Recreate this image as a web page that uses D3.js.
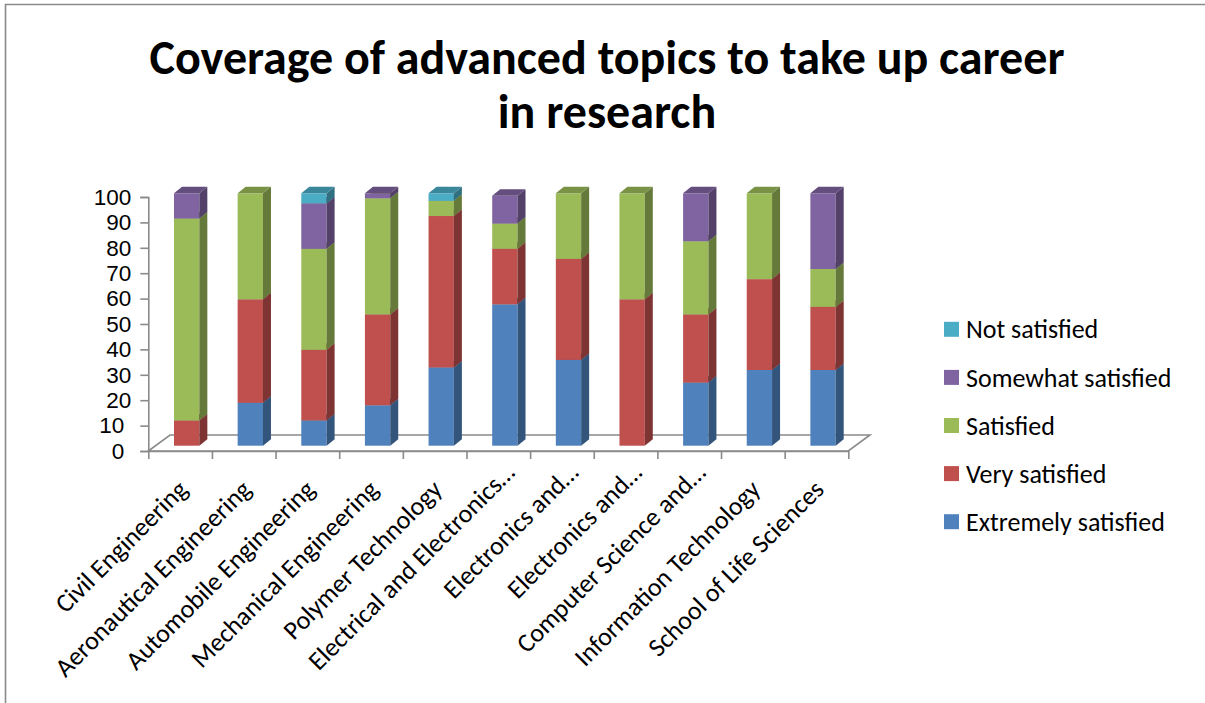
<!DOCTYPE html>
<html>
<head>
<meta charset="utf-8">
<script src="https://cdn.jsdelivr.net/npm/d3@7"></script>
<style>
  html, body { margin: 0; padding: 0; background: #fff; }
  svg { display: block; }
  text { font-family: Carlito, Lato, "Open Sans", sans-serif; fill: #000; }
</style>
</head>
<body>
<svg id="chart" width="1205" height="703"></svg>
<script>
// ---------- data ----------
const categories = [
  "Civil Engineering",
  "Aeronautical Engineering",
  "Automobile Engineering",
  "Mechanical Engineering",
  "Polymer Technology",
  "Electrical and Electronics\u2026",
  "Electronics and\u2026",
  "Electronics and\u2026",
  "Computer Science and\u2026",
  "Information Technology",
  "School of Life Sciences"
];
const seriesNames = ["Extremely satisfied", "Very satisfied", "Satisfied", "Somewhat satisfied", "Not satisfied"];
const extremelySatisfied = [0, 17, 10, 16, 31, 56, 34, 0, 25, 30, 30];
const verySatisfied      = [10, 41, 28, 36, 60, 22, 40, 58, 27, 36, 25];
const satisfied          = [80, 42, 40, 46, 6, 10, 26, 42, 29, 34, 15];
const somewhatSatisfied  = [10, 0, 18, 2, 0, 11, 0, 0, 19, 0, 30];
const notSatisfied       = [0, 0, 4, 0, 3, 0, 0, 0, 0, 0, 0];
const yTickValues = [0, 10, 20, 30, 40, 50, 60, 70, 80, 90, 100];
const titleLines = ["Coverage of advanced topics to take up career", "in research"];
const seriesColors = ["#4F81BD", "#C0504D", "#9BBB59", "#8064A2", "#4BACC6"];

// ---------- build ----------
const seriesValues = [extremelySatisfied, verySatisfied, satisfied, somewhatSatisfied, notSatisfied];
const rows = categories.map((c, i) => {
  const r = { idx: i };
  seriesNames.forEach((s, k) => r[s] = seriesValues[k][i]);
  return r;
});
const stacked = d3.stack().keys(seriesNames)(rows);

const svg = d3.select("#chart");
const gray = "#8a8a8a";

// outer border
svg.append("path")
  .attr("d", "M5.5,703 V4.5 H1205")
  .attr("fill", "none").attr("stroke", gray).attr("stroke-width", 1.6);

// title
const title = svg.append("text")
  .attr("x", 607).attr("text-anchor", "middle")
  .style("font-weight", "bold").style("font-size", "48px");
titleLines.forEach((t, i) => {
  title.append("tspan").attr("x", 607).attr("y", 74 + i * 54).text(t);
});

// scales
const plotLeft = 148.3, plotRight = 848.3;
const x = d3.scaleBand().domain(d3.range(categories.length)).range([plotLeft, plotRight]);
const xEdges = d3.scaleLinear().domain([0, categories.length]).range([plotLeft, plotRight]);
const y = d3.scaleLinear().domain([0, 100]).range([451, 197]);
const yBar = d3.scaleLinear().domain([0, 100]).range([445.7, 193.3]);

// floor (3D base)
const floorDx = 21.7, floorDy = -16;
svg.append("path")
  .attr("d", `M${plotLeft},${y(0)} L${plotRight},${y(0)} L${plotRight + floorDx},${y(0) + floorDy} L${plotLeft + floorDx},${y(0) + floorDy} Z`)
  .attr("fill", "none").attr("stroke", gray).attr("stroke-width", 1.6);

// y axis
const yAxis = svg.append("g")
  .attr("transform", `translate(${plotLeft},0)`)
  .call(d3.axisLeft(y).tickValues(yTickValues).tickSize(8).tickPadding(9));
yAxis.select(".domain").attr("stroke", gray).attr("stroke-width", 1.6);
yAxis.selectAll(".tick line").attr("stroke", gray).attr("stroke-width", 1.6);
yAxis.selectAll(".tick text").style("font-size", "22.5px").attr("fill", "#000")
  .style("font-family", "'Liberation Sans', Arial, sans-serif")
  .attr("dx", d => d <= 10 ? -7 : 0);

// x axis (ticks at category boundaries)
const xAxis = svg.append("g")
  .attr("transform", `translate(0,${y(0)})`)
  .call(d3.axisBottom(xEdges).tickValues(d3.range(categories.length + 1)).tickSize(8).tickSizeOuter(0).tickFormat(""));
xAxis.select(".domain").attr("stroke", gray).attr("stroke-width", 1.6);
xAxis.selectAll(".tick line").attr("stroke", gray).attr("stroke-width", 1.6);

// category labels (truncated labels sit slightly higher, as in the reference)
svg.append("g").selectAll("text")
  .data(categories)
  .join("text")
  .attr("text-anchor", "end")
  .attr("transform", (d, i) => {
    const cx = x(i) + x.bandwidth() / 2;
    const trunc = d.endsWith("\u2026");
    return `translate(${cx + (trunc ? 18 : 9)},${y(0) + (trunc ? 23 : 40)}) rotate(-45)`;
  })
  .style("font-size", "26px")
  .text(d => d);

// 3D stacked bars
const bw = x.bandwidth();
const faceOffset = 0.404 * bw, faceW = 0.398 * bw;
const depthDx = 8, depthDy = -6.5;
const barsG = svg.append("g");
categories.forEach((c, i) => {
  stacked.forEach((layer, k) => {
    const seg = layer[i];
    if (seg[1] - seg[0] <= 0) return;
    const x0 = x(i) + faceOffset, x1 = x0 + faceW;
    const yb = yBar(seg[0]), yt = yBar(seg[1]);
    const base = d3.color(seriesColors[k]);
    // front
    barsG.append("rect")
      .attr("x", x0).attr("y", yt).attr("width", faceW).attr("height", yb - yt)
      .attr("fill", base.formatHex());
    // side
    barsG.append("path")
      .attr("d", `M${x1},${yb} L${x1 + depthDx},${yb + depthDy} L${x1 + depthDx},${yt + depthDy} L${x1},${yt} Z`)
      .attr("fill", base.darker(1.2).formatHex());
    // top
    barsG.append("path")
      .attr("d", `M${x0},${yt} L${x1},${yt} L${x1 + depthDx},${yt + depthDy} L${x0 + depthDx},${yt + depthDy} Z`)
      .attr("fill", base.darker(0.7).formatHex());
  });
});

// legend (top-to-bottom: reverse series order)
const legendOrder = seriesNames.map((s, k) => k).reverse();
const legend = svg.append("g");
legendOrder.forEach((k, j) => {
  const cy = 329.3 + j * 48.1;
  legend.append("rect")
    .attr("x", 944).attr("y", cy - 7.5).attr("width", 15).attr("height", 15)
    .attr("fill", seriesColors[k]);
  legend.append("text")
    .attr("x", 966).attr("y", cy).attr("dy", "0.35em")
    .style("font-size", "26px")
    .text(seriesNames[k]);
});
</script>
</body>
</html>
